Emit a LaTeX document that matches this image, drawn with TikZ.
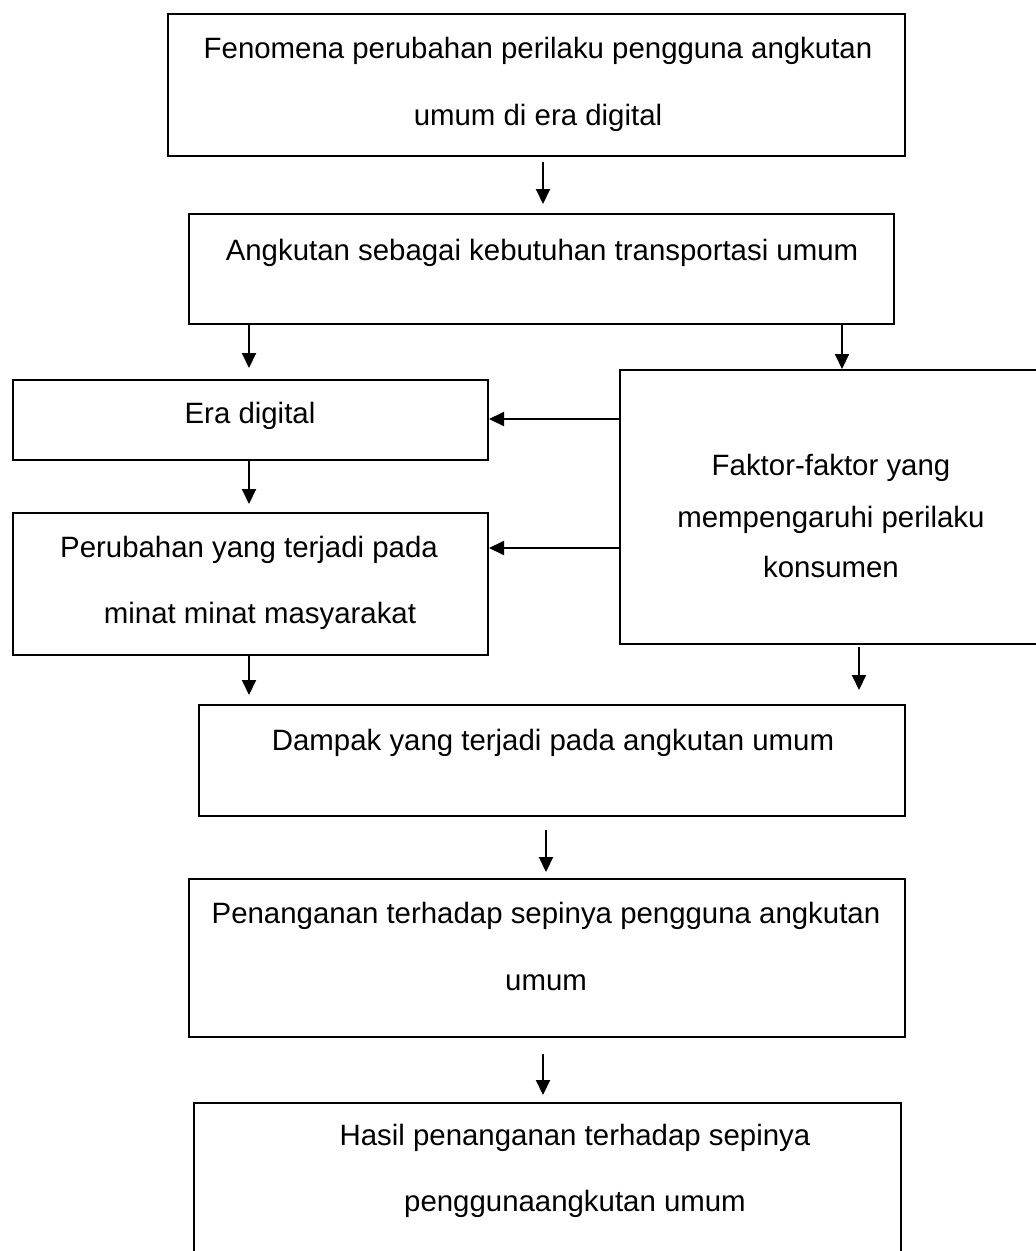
\documentclass[tikz,border=0pt]{standalone}
\usepackage{fontspec}
\setmainfont{Liberation Sans}
\usetikzlibrary{arrows.meta}
\begin{document}
\begin{tikzpicture}[x=1pt,y=-1pt,
  box/.style={draw, line width=2pt, inner sep=0pt, anchor=north west},
  txt/.style={font=\fontsize{29.4}{35}\selectfont, inner sep=0pt, text height=0.72em, text depth=0.21em},
  arr/.style={line width=2pt, -{Triangle[width=14pt,length=15pt]}}]
\useasboundingbox (0,0) rectangle (1036,1251);
\clip (0,0) rectangle (1036,1251);
\fill[white] (0,0) rectangle (1036,1251);

% boxes
\node[box, minimum width=737pt, minimum height=142pt] (b1) at (167,13) {};
\node[box, minimum width=705pt, minimum height=110pt] (b2) at (188,213) {};
\node[box, minimum width=475pt, minimum height=80pt] (era) at (12,379) {};
\node[box, minimum width=475pt, minimum height=142pt] (per) at (12,512) {};
\node[box, minimum width=440pt, minimum height=274pt] (fak) at (619,369) {};
\node[box, minimum width=706pt, minimum height=111pt] (dam) at (198,704) {};
\node[box, minimum width=716pt, minimum height=158pt] (pen) at (188,878) {};
\node[box, minimum width=707pt, minimum height=170pt] (has) at (193,1102) {};

% texts
\node[txt] (t1a) at (538,56) {Fenomena perubahan perilaku pengguna angkutan};
\node[txt] (t1b) at (538,123) {umum di era digital};
\node[txt] (t2) at (542,258) {Angkutan sebagai kebutuhan transportasi umum};
\node[txt] (t3) at (250,421) {Era digital};
\node[txt] (t4a) at (249,555) {Perubahan yang terjadi pada};
\node[txt] (t4b) at (260,621) {minat minat masyarakat};
\node[txt] (t5a) at (831,473) {Faktor-faktor yang};
\node[txt] (t5b) at (831,525) {mempengaruhi perilaku};
\node[txt] (t5c) at (831,575) {konsumen};
\node[txt] (t6) at (553,748) {Dampak yang terjadi pada angkutan umum};
\node[txt] (t7a) at (546,921) {Penanganan terhadap sepinya pengguna angkutan};
\node[txt] (t7b) at (546,988) {umum};
\node[txt] (t8a) at (575,1143) {Hasil penanganan terhadap sepinya};
\node[txt] (t8b) at (575,1209) {penggunaangkutan umum};

% arrow guide coordinates
\coordinate (xa) at (543,0);
\coordinate (xl) at (249,0);
\coordinate (xr) at (842,0);
\coordinate (xf) at (859,0);
\coordinate (xb) at (546,0);
\coordinate (xc) at (543,0);
\coordinate (ya) at (0,419);
\coordinate (yb) at (0,548);

% connectors
\draw[arr, shorten <=5pt, shorten >=9pt] (b1.south -| xa) -- (b2.north -| xa);
\draw[arr, shorten >=11pt] (b2.south -| xl) -- (era.north -| xl);
\draw[arr] (b2.south -| xr) -- (fak.north -| xr);
\draw[arr] (fak.west |- ya) -- (era.east |- ya);
\draw[arr] (fak.west |- yb) -- (per.east |- yb);
\draw[arr, shorten >=8pt] (era.south -| xl) -- (per.north -| xl);
\draw[arr, shorten >=9pt] (per.south -| xl) -- (dam.north -| xl);
\draw[arr, shorten <=2pt, shorten >=14pt] (fak.south -| xf) -- (dam.north -| xf);
\draw[arr, shorten <=13pt, shorten >=6pt] (dam.south -| xb) -- (pen.north -| xb);
\draw[arr, shorten <=16pt, shorten >=7pt] (pen.south -| xc) -- (has.north -| xc);
\end{tikzpicture}
\end{document}
